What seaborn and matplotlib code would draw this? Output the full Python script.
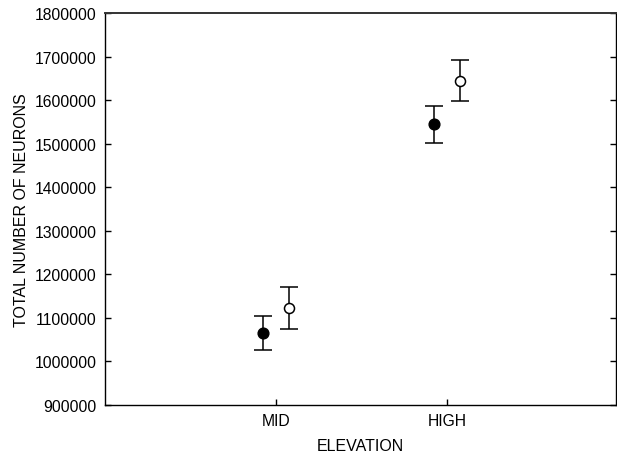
import matplotlib
matplotlib.use("Agg")
import matplotlib.pyplot as plt
import seaborn as sns
import numpy as np

# Elevation groups and the two series per group (filled and open markers)
elevations = ["MID", "HIGH"]
filled_means = [1065000, 1545000]
filled_errs = [39000, 42500]
open_means = [1122000, 1645000]
open_errs = [48000, 46500]

sns.set_theme(style="white")
plt.rcParams["font.family"] = ["Liberation Sans", "DejaVu Sans"]

fig = plt.figure(figsize=(6.17, 4.56), dpi=100)
ax = fig.add_axes([105 / 617, 50 / 456, 511 / 617, 392 / 456])

pos = np.arange(len(elevations))
offset = 0.076

sns.scatterplot(x=pos - offset, y=filled_means, ax=ax, color="black",
                s=60, edgecolor="black", linewidth=1, zorder=3, legend=False)
sns.scatterplot(x=pos + offset, y=open_means, ax=ax, color="white",
                s=52, edgecolor="black", linewidth=1.1, zorder=3, legend=False)
ax.errorbar(pos - offset, filled_means, yerr=filled_errs, fmt="none",
            ecolor="black", elinewidth=1.1, capsize=6.5, capthick=1.1, zorder=2)
ax.errorbar(pos + offset, open_means, yerr=open_errs, fmt="none",
            ecolor="black", elinewidth=1.1, capsize=6.5, capthick=1.1, zorder=2)

ax.set_xlim(-1.0, 1.99)
ax.set_ylim(900000, 1800000)
ax.set_xticks(pos)
ax.set_xticklabels(elevations)
ax.set_yticks(np.arange(900000, 1800001, 100000))
ax.yaxis.set_major_formatter(matplotlib.ticker.FuncFormatter(lambda v, p: f"{int(v)}"))

for side in ["left", "right", "top", "bottom"]:
    ax.spines[side].set_visible(True)
    ax.spines[side].set_color("black")
    ax.spines[side].set_linewidth(1.0)
ax.spines["top"].set_color("#333333")
ax.spines["top"].set_linewidth(1.4)

ax.tick_params(axis="both", direction="in", length=4, width=1, colors="black",
               labelsize=11.3, labelcolor="black", pad=6)
ax.tick_params(axis="y", right=True, left=True)
ax.tick_params(axis="x", bottom=True, top=False)

ax.set_xlabel("ELEVATION", fontsize=11.5, color="black", labelpad=7)
ax.set_ylabel("TOTAL NUMBER OF NEURONS", fontsize=11.5, color="black", labelpad=4)

fig.savefig("out.png", dpi=100)
